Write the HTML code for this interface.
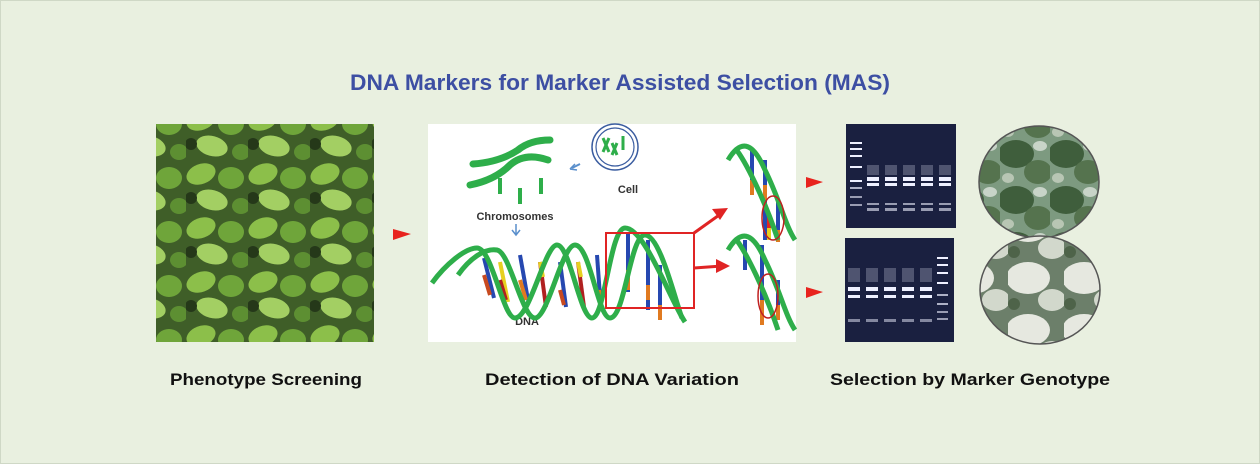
<!DOCTYPE html>
<html><head><meta charset="utf-8"><style>
html,body{margin:0;width:1260px;height:464px;overflow:hidden;background:#e9f0e0;font-family:"Liberation Sans",sans-serif}
svg{display:block}
</style></head><body>
<svg width="1260" height="464" viewBox="0 0 1260 464" xmlns="http://www.w3.org/2000/svg">
<defs>
<pattern id="leaf" width="62" height="54" patternUnits="userSpaceOnUse">
<rect width="62" height="54" fill="#3f5e28"/>
<ellipse cx="15" cy="12" rx="15" ry="10" fill="#8cbf4a" transform="rotate(-20 15 12)"/>
<ellipse cx="45" cy="16" rx="13" ry="11" fill="#6fa53a"/>
<ellipse cx="26" cy="38" rx="16" ry="10" fill="#a3cf63" transform="rotate(15 26 38)"/>
<ellipse cx="55" cy="44" rx="9" ry="8" fill="#5d8f32"/>
<ellipse cx="5" cy="36" rx="6" ry="6" fill="#253819"/>
</pattern>
<pattern id="leaf2" width="50" height="46" patternUnits="userSpaceOnUse">
<rect width="50" height="46" fill="#7d9a80"/>
<ellipse cx="16" cy="16" rx="18" ry="14" fill="#3f5e3c"/>
<ellipse cx="38" cy="34" rx="14" ry="12" fill="#55734e"/>
<ellipse cx="40" cy="8" rx="7" ry="5" fill="#c8d4c8"/>
<ellipse cx="8" cy="40" rx="6" ry="5" fill="#b8c6b4"/>
</pattern>
<pattern id="leaf3" width="56" height="52" patternUnits="userSpaceOnUse">
<rect width="56" height="52" fill="#6c7f6a"/>
<ellipse cx="20" cy="18" rx="22" ry="16" fill="#e6e8e0"/>
<ellipse cx="44" cy="40" rx="14" ry="11" fill="#d2d8cc"/>
<ellipse cx="6" cy="44" rx="6" ry="6" fill="#4e6349"/>
</pattern>
</defs>
<rect x="0.5" y="0.5" width="1259" height="463" fill="#e9f0e0" stroke="#cfd8c6"/>
<text x="620" y="90" text-anchor="middle" font-size="22" font-weight="bold" fill="#3d4fa3" textLength="540" lengthAdjust="spacingAndGlyphs">DNA Markers for Marker Assisted Selection (MAS)</text>

<rect x="156" y="124" width="218" height="218" fill="url(#leaf)"/>
<polygon points="393,229 411,234 393,240" fill="#e8231e"/>

<rect x="428" y="124" width="368" height="218" fill="#fff"/>
<!-- cell -->
<circle cx="615" cy="147" r="23" fill="none" stroke="#3b5da0" stroke-width="1.5"/>
<circle cx="615" cy="147" r="19" fill="none" stroke="#3b5da0" stroke-width="1.2"/>
<g stroke="#2eae4a" stroke-width="3"><path d="M603 138 l6 14 M609 138 l-6 14 M612 143 l5 12 M617 143 l-5 12 M623 136 v14"/></g>
<text x="628" y="193" text-anchor="middle" font-size="11" font-weight="bold" fill="#333">Cell</text>
<path d="M580 164 l-8 4" stroke="#5a8fcc" stroke-width="2"/><path d="M570 169 l5 -5 m-5 5 l7 1" stroke="#5a8fcc" stroke-width="1.5" fill="none"/>
<!-- chromosome X -->
<g stroke="#2eae4a" stroke-width="7" fill="none" stroke-linecap="round">
<path d="M473 164 Q500 162 518 150 Q530 140 550 140"/><path d="M470 185 Q495 180 510 165 Q525 152 548 160"/>
</g>
<g stroke="#2eae4a" stroke-width="4"><path d="M500 178 v16 M520 188 v16 M541 178 v16"/></g>
<text x="515" y="220" text-anchor="middle" font-size="11" font-weight="bold" fill="#333">Chromosomes</text>
<path d="M516 224 v10 m-4 -4 l4 5 l4 -5" stroke="#5a8fcc" stroke-width="1.5" fill="none"/>
<text x="527" y="325" text-anchor="middle" font-size="11" font-weight="bold" fill="#333">DNA</text>
<!-- base pairs -->
<g stroke-width="4">
<path d="M484 258 l10 40" stroke="#2648b0"/><path d="M484 275 l6 20" stroke="#c84a20"/>
<path d="M500 262 l8 40" stroke="#e6d020"/><path d="M500 280 l6 20" stroke="#b02020"/>
<path d="M520 255 l8 45" stroke="#2648b0"/><path d="M520 280 l6 20" stroke="#e07a20"/>
<path d="M540 262 l6 45" stroke="#b02020"/><path d="M540 262 l3 15" stroke="#e6d020"/>
<path d="M560 262 l6 45" stroke="#2648b0"/><path d="M560 290 l4 15" stroke="#c84a20"/>
<path d="M578 262 l6 45" stroke="#b02020"/><path d="M578 262 l3 15" stroke="#e6d020"/>
<path d="M597 255 l4 55" stroke="#2648b0"/><path d="M599 290 l2 15" stroke="#e07a20"/>
<path d="M628 232 v60" stroke="#2648b0"/><path d="M628 270 v20" stroke="#e07a20"/>
<path d="M648 240 v70" stroke="#2648b0"/><path d="M648 285 v15" stroke="#e07a20"/>
<path d="M660 265 v55" stroke="#2648b0"/><path d="M660 305 v15" stroke="#e07a20"/>
</g>
<!-- helix -->
<g stroke="#2eae4a" stroke-width="5" fill="none">
<path d="M432 283 C445 265 465 248 477 248 C492 248 503 318 515 318 C530 318 545 245 557 245 C570 245 580 318 592 318 C605 318 610 228 625 228 C645 228 670 300 685 322"/>
<path d="M458 275 C470 258 485 248 497 250 C510 252 522 318 535 318 C548 318 562 245 575 245 C590 245 598 318 610 318 C625 318 630 235 645 235 C660 235 675 300 682 318"/>
</g>
<rect x="606" y="233" width="88" height="75" fill="none" stroke="#e02424" stroke-width="2"/>
<g stroke="#e02424" stroke-width="3" fill="none"><path d="M694 233 L722 213"/><path d="M694 268 L722 266"/></g>
<polygon points="728,208 712,209 720,220" fill="#e02424"/><polygon points="730,266 716,259 716,273" fill="#e02424"/>
<!-- right strands -->
<g stroke-width="4">
<path d="M752 150 v40 M765 160 v80 M778 200 v40" stroke="#2648b0"/>
<path d="M752 180 v15 M765 185 v15 M778 230 v12" stroke="#e07a20"/>
<path d="M769 215 v15" stroke="#e02424"/><path d="M769 228 v12" stroke="#e6d020"/>
<path d="M745 240 v30 M762 245 v80 M778 280 v35" stroke="#2648b0"/>
<path d="M762 300 v25 M778 305 v15" stroke="#e07a20"/>
</g>
<g stroke="#2eae4a" stroke-width="5" fill="none">
<path d="M728 160 C740 140 752 140 765 170 C780 200 785 225 795 240"/>
<path d="M735 148 C745 160 765 200 778 240"/>
<path d="M728 250 C740 230 752 230 765 260 C780 290 785 315 795 330"/>
<path d="M735 238 C745 250 765 290 778 330"/>
</g>
<ellipse cx="773" cy="218" rx="11" ry="22" fill="none" stroke="#c02020" stroke-width="1.5"/>
<ellipse cx="768" cy="296" rx="10" ry="22" fill="none" stroke="#c02020" stroke-width="1.5"/>

<polygon points="806,177 823,182 806,188" fill="#e8231e"/>
<polygon points="806,287 823,292 806,298" fill="#e8231e"/>
<!-- gels -->
<rect x="846" y="124" width="110" height="104" fill="#1a2040"/>
<g fill="#eef0ff">
<rect x="850" y="142" width="12" height="2"/><rect x="850" y="148" width="12" height="2"/><rect x="850" y="155" width="12" height="2"/><rect x="850" y="166" width="12" height="2"/><rect x="850" y="180" width="12" height="2"/><rect x="850" y="187" width="12" height="2" opacity=".7"/><rect x="850" y="196" width="12" height="2" opacity=".6"/><rect x="850" y="204" width="12" height="2" opacity=".6"/>
<g opacity=".25"><rect x="867" y="165" width="12" height="10"/><rect x="885" y="165" width="12" height="10"/><rect x="903" y="165" width="12" height="10"/><rect x="921" y="165" width="12" height="10"/><rect x="939" y="165" width="12" height="10"/></g>
<rect x="867" y="177" width="12" height="4"/><rect x="885" y="177" width="12" height="4"/><rect x="903" y="177" width="12" height="4"/><rect x="921" y="177" width="12" height="4"/><rect x="939" y="177" width="12" height="4"/>
<rect x="867" y="183" width="12" height="3"/><rect x="885" y="183" width="12" height="3"/><rect x="903" y="183" width="12" height="3"/><rect x="921" y="183" width="12" height="3"/><rect x="939" y="183" width="12" height="3"/>
<g opacity=".6"><rect x="867" y="203" width="12" height="2"/><rect x="885" y="203" width="12" height="2"/><rect x="903" y="203" width="12" height="2"/><rect x="921" y="203" width="12" height="2"/><rect x="939" y="203" width="12" height="2"/>
<rect x="867" y="208" width="12" height="3"/><rect x="885" y="208" width="12" height="3"/><rect x="903" y="208" width="12" height="3"/><rect x="921" y="208" width="12" height="3"/><rect x="939" y="208" width="12" height="3"/></g>
</g>
<rect x="845" y="238" width="109" height="104" fill="#1a2040"/>
<g fill="#eef0ff">
<g opacity=".25"><rect x="848" y="268" width="12" height="14"/><rect x="866" y="268" width="12" height="14"/><rect x="884" y="268" width="12" height="14"/><rect x="902" y="268" width="12" height="14"/><rect x="920" y="268" width="12" height="14"/></g>
<rect x="848" y="287" width="12" height="4"/><rect x="866" y="287" width="12" height="4"/><rect x="884" y="287" width="12" height="4"/><rect x="902" y="287" width="12" height="4"/><rect x="920" y="287" width="12" height="4"/>
<rect x="848" y="295" width="12" height="3"/><rect x="866" y="295" width="12" height="3"/><rect x="884" y="295" width="12" height="3"/><rect x="902" y="295" width="12" height="3"/><rect x="920" y="295" width="12" height="3"/>
<g opacity=".5"><rect x="848" y="319" width="12" height="3"/><rect x="866" y="319" width="12" height="3"/><rect x="884" y="319" width="12" height="3"/><rect x="902" y="319" width="12" height="3"/><rect x="920" y="319" width="12" height="3"/></g>
<rect x="937" y="257" width="11" height="2"/><rect x="937" y="264" width="11" height="2"/><rect x="937" y="272" width="11" height="2"/><rect x="937" y="282" width="11" height="2"/><rect x="937" y="294" width="11" height="2" opacity=".7"/><rect x="937" y="303" width="11" height="2" opacity=".7"/><rect x="937" y="311" width="11" height="2" opacity=".6"/><rect x="937" y="318" width="11" height="2" opacity=".6"/>
</g>
<ellipse cx="1039" cy="182" rx="60" ry="56" fill="url(#leaf2)" stroke="#555" stroke-width="1.5"/>
<ellipse cx="1040" cy="290" rx="60" ry="54" fill="url(#leaf3)" stroke="#555" stroke-width="1.5"/>

<g font-size="17" font-weight="bold" fill="#111" text-anchor="middle">
<text x="266" y="385" textLength="192" lengthAdjust="spacingAndGlyphs">Phenotype Screening</text>
<text x="612" y="385" textLength="254" lengthAdjust="spacingAndGlyphs">Detection of DNA Variation</text>
<text x="970" y="385" textLength="280" lengthAdjust="spacingAndGlyphs">Selection by Marker Genotype</text>
</g>
</svg>
</body></html>
